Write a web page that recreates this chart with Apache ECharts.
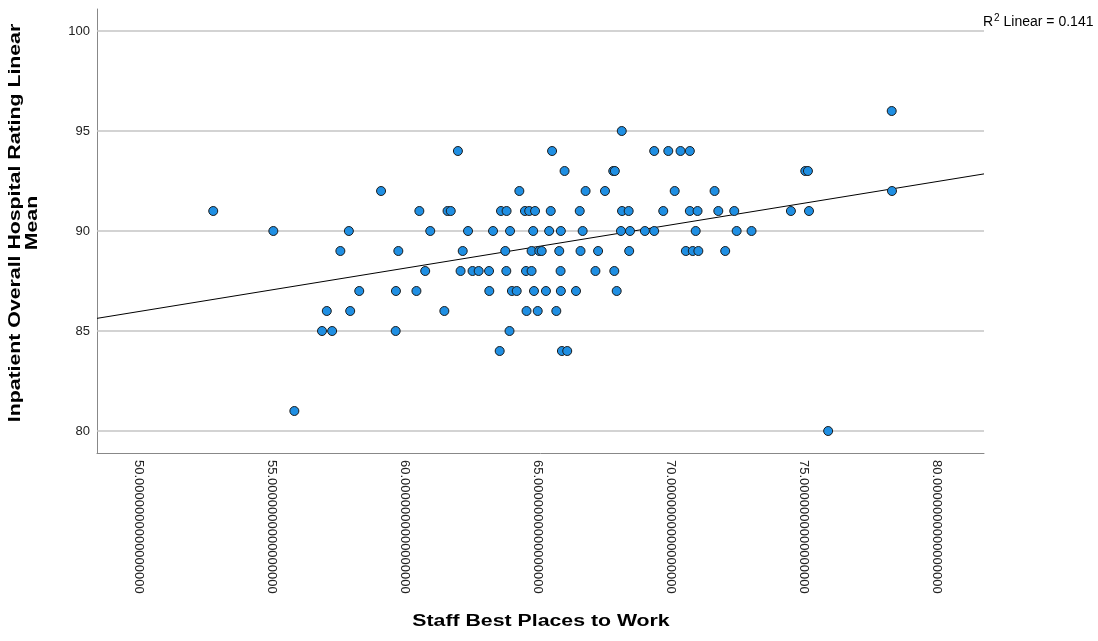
<!DOCTYPE html>
<html>
<head>
<meta charset="utf-8">
<script src="https://cdn.jsdelivr.net/npm/echarts@6/dist/echarts.min.js"></script>
<style>
  html, body { margin: 0; padding: 0; background: #fff; }
  #chart { width: 1098px; height: 641px; }
</style>
</head>
<body>
<div id="chart"></div>
<script>
// Staff "Best Places to Work" score vs. inpatient overall hospital rating (mean)
const staffScore = [
  78.30,
  68.15,
  61.99, 65.53, 69.37, 69.90, 70.36, 70.71,
  66.00, 67.83, 67.89, 75.05, 75.15,
  59.10, 64.30, 66.79, 67.52, 70.14, 71.64, 78.31,
  52.79, 60.54, 61.60, 61.72, 63.61, 63.82, 64.51, 64.67, 64.89, 65.48,
  66.57, 68.16, 68.41, 69.71, 70.71, 71.00, 71.78, 72.38, 74.51, 75.19,
  55.05, 57.89, 60.95, 62.37, 63.31, 63.95, 64.82, 65.42, 65.86, 66.68,
  68.12, 68.46, 69.02, 69.37, 70.93, 72.47, 73.03,
  57.57, 59.75, 62.17, 63.77, 64.76, 65.05, 65.14, 65.80, 66.60, 67.26,
  68.43, 70.56, 70.82, 71.03, 72.04,
  60.76, 62.09, 62.54, 62.77, 63.16, 63.81, 64.55, 64.76, 65.85, 67.16, 67.87,
  58.28, 59.66, 60.43, 63.17, 64.02, 64.20, 64.85, 65.30, 65.86, 66.43, 67.96,
  57.06, 57.94, 61.48, 64.57, 64.99, 65.69,
  56.88, 57.26, 59.65, 63.93,
  63.56, 65.90, 66.10,
  55.84,
  75.91
];
const ratingMean = [
  96,
  95,
  94, 94, 94, 94, 94, 94,
  93, 93, 93, 93, 93,
  92, 92, 92, 92, 92, 92, 92,
  91, 91, 91, 91, 91, 91, 91, 91, 91, 91,
  91, 91, 91, 91, 91, 91, 91, 91, 91, 91,
  90, 90, 90, 90, 90, 90, 90, 90, 90, 90,
  90, 90, 90, 90, 90, 90, 90,
  89, 89, 89, 89, 89, 89, 89, 89, 89, 89,
  89, 89, 89, 89, 89,
  88, 88, 88, 88, 88, 88, 88, 88, 88, 88, 88,
  87, 87, 87, 87, 87, 87, 87, 87, 87, 87, 87,
  86, 86, 86, 86, 86, 86,
  85, 85, 85, 85,
  84, 84, 84,
  81,
  80
];
const xTicks = [50, 55, 60, 65, 70, 75, 80];
const yTicks = [80, 85, 90, 95, 100];
const xLabelDecimals = 16;
const fitLabel = '0.141';

const X_MIN = 48.42, X_MAX = 81.77;
const Y_MIN = 78.9, Y_MAX = 101.1;

const points = staffScore.map((x, i) => [x, ratingMean[i]]);

// ordinary least squares fit line across the x range
const n = points.length;
const mx = staffScore.reduce((a, b) => a + b, 0) / n;
const my = ratingMean.reduce((a, b) => a + b, 0) / n;
let sxy = 0, sxx = 0;
for (let i = 0; i < n; i++) {
  sxy += (staffScore[i] - mx) * (ratingMean[i] - my);
  sxx += (staffScore[i] - mx) ** 2;
}
const slope = sxy / sxx;
const intercept = my - slope * mx;
const fitLine = [[X_MIN, intercept + slope * X_MIN], [X_MAX, intercept + slope * X_MAX]];

const FONT = 'Arial, "Liberation Sans", sans-serif';
const TITLE_STRETCH = 1.33;
const chart = echarts.init(document.getElementById('chart'), null, { renderer: 'canvas' });

chart.setOption({
  animation: false,
  backgroundColor: '#ffffff',
  grid: { left: 97, top: 9, width: 887, height: 444, containLabel: false },
  xAxis: {
    type: 'value',
    min: X_MIN,
    max: X_MAX,
    axisLine: { show: true, onZero: false, lineStyle: { color: '#888888', width: 1 } },
    axisTick: { show: false },
    splitLine: { show: false },
    axisLabel: {
      customValues: xTicks,
      rotate: -90,
      margin: 7,
      fontSize: 13,
      fontFamily: FONT,
      color: '#222222',
      formatter: v => v.toFixed(xLabelDecimals)
    }
  },
  yAxis: {
    type: 'value',
    min: Y_MIN,
    max: Y_MAX,
    axisLine: { show: true, onZero: false, lineStyle: { color: '#888888', width: 1 } },
    axisTick: { show: false },
    splitLine: { show: false },
    axisLabel: {
      customValues: yTicks,
      margin: 7,
      fontSize: 13,
      fontFamily: FONT,
      color: '#222222'
    }
  },
  graphic: [
    {
      type: 'text',
      x: 541, y: 622,
      scaleX: TITLE_STRETCH,
      style: {
        text: 'Staff Best Places to Work',
        font: 'bold 16px ' + FONT,
        fill: '#000000',
        align: 'center',
        verticalAlign: 'middle'
      }
    },
    {
      type: 'text',
      x: 24, y: 223,
      rotation: Math.PI / 2,
      scaleX: TITLE_STRETCH,
      style: {
        text: 'Inpatient Overall Hospital Rating Linear\nMean',
        font: 'bold 16px ' + FONT,
        lineHeight: 17,
        fill: '#000000',
        align: 'center',
        verticalAlign: 'middle'
      }
    },
    {
      type: 'text',
      x: 983, y: 22,
      style: {
        text: '{r|R}{s|2}{r| Linear = ' + fitLabel + '}',
        rich: {
          r: { font: '14px ' + FONT, fill: '#000000' },
          s: { font: '10px ' + FONT, fill: '#000000', padding: [0, 0, 7, 1] }
        },
        verticalAlign: 'middle'
      }
    }
  ],
  series: [
    {
      // horizontal reference lines at the y ticks, kept beneath the marks
      type: 'scatter',
      data: [],
      silent: true,
      z: 1,
      markLine: {
        z: 1,
        silent: true,
        symbol: 'none',
        label: { show: false },
        lineStyle: { color: '#c4c4c4', width: 1.5, type: 'solid' },
        data: yTicks.map(v => ({ yAxis: v }))
      }
    },
    {
      type: 'line',
      data: fitLine,
      symbol: 'none',
      silent: true,
      lineStyle: { color: '#000000', width: 1 },
      z: 3
    },
    {
      type: 'scatter',
      data: points,
      symbol: 'circle',
      symbolSize: 9,
      itemStyle: { color: '#1f8fe3', borderColor: '#1c1c1c', borderWidth: 1, opacity: 1 },
      z: 4
    }
  ]
});
</script>
</body>
</html>
